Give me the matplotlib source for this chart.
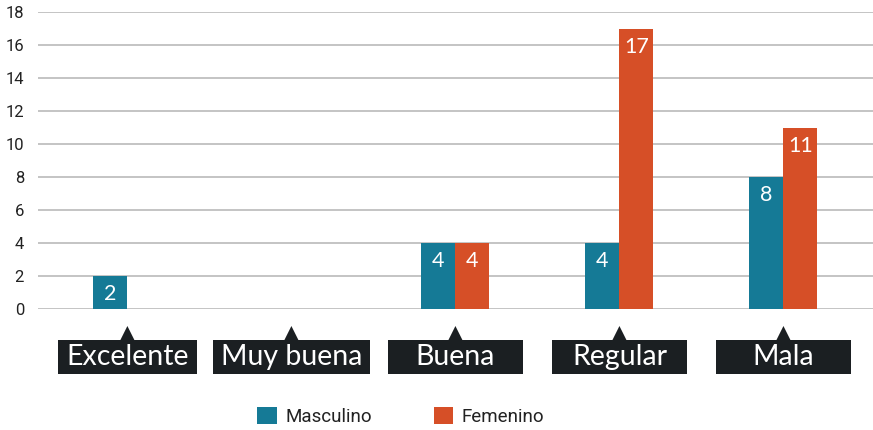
import matplotlib.pyplot as plt
import matplotlib.transforms as mtransforms
from matplotlib.patches import Rectangle, Polygon
import numpy as np

categories = ["Excelente", "Muy buena", "Buena", "Regular", "Mala"]
masculino = [2, 0, 4, 4, 8]
femenino = [0, 0, 4, 17, 11]
series_names = ["Masculino", "Femenino"]
colors = ["#157a96", "#d64f27"]
yticks = [0, 2, 4, 6, 8, 10, 12, 14, 16, 18]

fig = plt.figure(figsize=(8.73, 4.30), dpi=100)
ax = fig.add_axes([38 / 873, 121 / 430, 835 / 873, 297 / 430])

px = 164.0  # pixels per x unit
x = np.arange(len(categories))
w = 34 / px
b1 = ax.bar(x - w, masculino, w, align="edge", color=colors[0], label=series_names[0])
b2 = ax.bar(x, femenino, w, align="edge", color=colors[1], label=series_names[1])

for bars, vals in [(b1, masculino), (b2, femenino)]:
    for bar, v in zip(bars, vals):
        if v == 0:
            continue
        ax.annotate(str(v), (bar.get_x() + bar.get_width() / 2, v),
                    xytext=(0, -6), textcoords="offset points",
                    ha="center", va="top", color="white",
                    fontsize=15.5, family=["Lato", "DejaVu Sans"])

ax.set_xlim(-0.545, 4.546)
ax.set_ylim(0, 18)
ax.set_yticks(yticks)
ax.set_xticks([])
ax.grid(axis="y", color="#b4b4b4", linewidth=1.1)
ax.set_axisbelow(True)
for s in ax.spines.values():
    s.set_visible(False)
ax.tick_params(axis="y", length=0, pad=10, labelsize=12, labelcolor="#222222")
for t in ax.get_yticklabels():
    t.set_family(["Roboto", "DejaVu Sans"])

# category labels in dark boxes with a small pointer
trans = mtransforms.blended_transform_factory(ax.transData, fig.transFigure)
fig.canvas.draw()
renderer = fig.canvas.get_renderer()
y_top = (430 - 340) / 430
y_bot = (430 - 374) / 430
y_tip = (430 - 326) / 430
for i, cat in enumerate(categories):
    t = ax.text(i, (y_top + y_bot) / 2, cat, transform=trans, ha="center", va="center",
                color="white", fontsize=20.5, family=["Lato", "DejaVu Sans"], zorder=5)
    tw = t.get_window_extent(renderer).width
    bw = max(135, tw + 16) / px
    ax.add_patch(Rectangle((i - bw / 2, y_bot), bw, y_top - y_bot, transform=trans,
                           facecolor="#1b1f22", edgecolor="none", clip_on=False, zorder=4))
    hw = 7 / px
    ax.add_patch(Polygon([(i - hw, y_top), (i + hw, y_top), (i, y_tip)], closed=True,
                         transform=trans, facecolor="#1b1f22", edgecolor="none",
                         clip_on=False, zorder=4))

leg = fig.legend(loc="center", bbox_to_anchor=(0.459, 0.032), ncol=2, frameon=False,
                 handlelength=1.05, handleheight=1.05, handletextpad=0.45,
                 columnspacing=3.3, prop={"family": ["Roboto", "DejaVu Sans"], "size": 13.5})
for t in leg.get_texts():
    t.set_color("#222222")

fig.savefig("out.png", dpi=100)
